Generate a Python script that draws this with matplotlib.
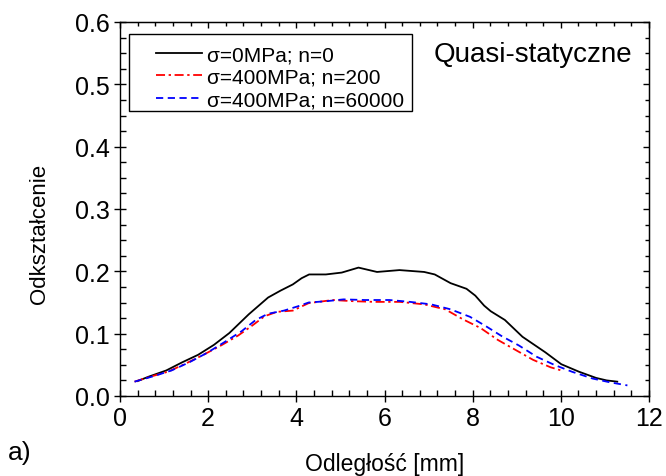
import matplotlib
matplotlib.use("Agg")
import matplotlib.pyplot as plt
from matplotlib.ticker import MultipleLocator
from matplotlib.patches import Rectangle

plt.rcParams['font.family'] = ['Liberation Sans', 'DejaVu Sans']

# Data
x_s0 = [0.40, 0.65, 1.05, 1.41, 1.77, 2.13, 2.48, 2.92, 3.36, 3.64, 3.92, 4.12, 4.29, 4.67,
        5.03, 5.41, 5.83, 6.34, 6.90, 7.14, 7.50, 7.86, 8.06, 8.26, 8.41, 8.73, 9.13, 9.65,
        10.01, 10.41, 10.80, 11.04, 11.28]
y_s0 = [0.024, 0.031, 0.041, 0.054, 0.066, 0.082, 0.101, 0.131, 0.158, 0.169, 0.179, 0.189,
        0.195, 0.195, 0.198, 0.206, 0.199, 0.202, 0.199, 0.195, 0.181, 0.172, 0.161, 0.145,
        0.136, 0.122, 0.095, 0.070, 0.051, 0.039, 0.029, 0.025, 0.023]

x_n200 = [0.33, 0.69, 1.09, 1.49, 1.89, 2.29, 2.68, 3.00, 3.28, 3.56, 3.92, 4.28, 4.83, 5.31,
          5.79, 6.35, 6.90, 7.38, 7.78, 8.18, 8.57, 8.97, 9.37, 9.77, 10.01]
y_n200 = [0.023, 0.031, 0.039, 0.052, 0.066, 0.081, 0.097, 0.113, 0.128, 0.135, 0.137, 0.149,
          0.154, 0.152, 0.151, 0.151, 0.147, 0.139, 0.123, 0.109, 0.090, 0.074, 0.058, 0.046,
          0.041]

x_n60000 = [0.33, 0.77, 1.17, 1.57, 1.97, 2.36, 2.76, 3.08, 3.36, 3.72, 4.04, 4.28, 4.67, 5.07,
            5.55, 6.11, 6.58, 7.06, 7.50, 7.94, 8.30, 8.66, 9.05, 9.45, 9.85, 10.25, 10.72,
            11.11, 11.51]
y_n60000 = [0.023, 0.032, 0.041, 0.054, 0.069, 0.086, 0.104, 0.122, 0.132, 0.137, 0.144, 0.150,
            0.152, 0.155, 0.154, 0.154, 0.151, 0.147, 0.139, 0.127, 0.112, 0.096, 0.081, 0.063,
            0.050, 0.039, 0.028, 0.022, 0.017]

labels = ['σ=0MPa; n=0', 'σ=400MPa; n=200', 'σ=400MPa; n=60000']
x_ticks = [0, 2, 4, 6, 8, 10, 12]
y_ticks = [0.0, 0.1, 0.2, 0.3, 0.4, 0.5, 0.6]

fig = plt.figure(figsize=(6.66, 4.77), dpi=100)
ax = fig.add_axes([120/666, 1-397/477, 529/666, 374/477])

ax.plot(x_s0, y_s0, color='black', lw=1.3, label=labels[0])
ax.plot(x_n200, y_n200, color='red', lw=1.3, linestyle=(0, (5, 2, 1.3, 2)), label=labels[1])
ax.plot(x_n60000, y_n60000, color='blue', lw=1.3, linestyle=(0, (4, 2.5)), label=labels[2])

ax.set_xlim(0, 12)
ax.set_ylim(0, 0.6)
ax.set_xticks(x_ticks)
ax.set_yticks(y_ticks)
ax.set_xticklabels([str(t) for t in x_ticks])
ax.set_yticklabels([f'{t:.1f}' for t in y_ticks])
ax.xaxis.set_minor_locator(MultipleLocator(0.4))
ax.yaxis.set_minor_locator(MultipleLocator(0.025))
ax.tick_params(which='major', direction='inout', length=8.6, width=1.0, labelsize=18, pad=3)
ax.tick_params(which='minor', direction='in', length=4, width=1.0)
for sp in ax.spines.values():
    sp.set_linewidth(1.0)

secx = ax.secondary_xaxis('top')
secx.set_xticks(x_ticks)
secx.xaxis.set_minor_locator(MultipleLocator(0.4))
secx.tick_params(which='major', direction='in', length=4.5, width=1.0, labeltop=False)
secx.tick_params(which='minor', direction='in', length=3, width=1.0)
secy = ax.secondary_yaxis('right')
secy.set_yticks(y_ticks)
secy.yaxis.set_minor_locator(MultipleLocator(0.025))
secy.tick_params(which='major', direction='in', length=4.5, width=1.0, labelright=False)
secy.tick_params(which='minor', direction='in', length=3, width=1.0)

fig.text(385/666, 1-471/477, 'Odległość [mm]', ha='center', va='baseline', fontsize=16.5)
fig.text(40/666, 1-234/477, 'Odkształcenie', ha='center', va='center', rotation=90, fontsize=16)
fig.text(8/666, 1-460/477, 'a)', ha='left', va='baseline', fontsize=19)
ax.text((632-120)/529, (397-62)/374, 'Quasi-statyczne', transform=ax.transAxes,
        ha='right', va='baseline', fontsize=20)

leg = ax.legend(loc='upper left', bbox_to_anchor=((156-120)/529, (397-46)/374),
                frameon=False, borderpad=0, borderaxespad=0, fontsize=15,
                handlelength=2.2, handletextpad=0.25, labelspacing=0.18)
ax.add_patch(Rectangle(((129-120)/529, (397-112)/374), (412-129)/529, (112-35)/374,
                       transform=ax.transAxes, fill=False, edgecolor='black', lw=1.0, zorder=5))

fig.savefig('out.png', dpi=100)
